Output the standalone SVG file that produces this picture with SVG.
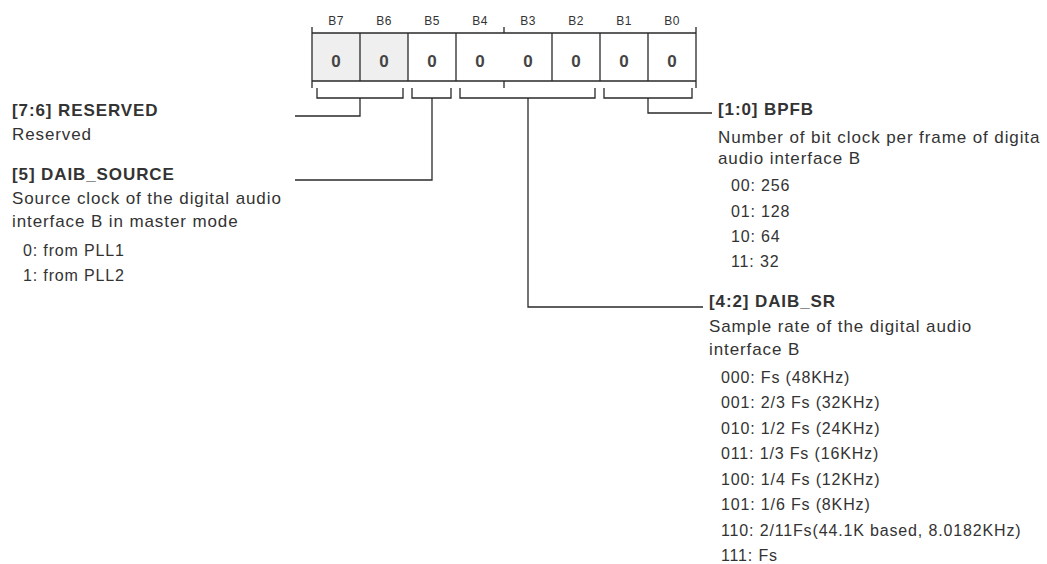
<svg xmlns="http://www.w3.org/2000/svg" width="1047" height="564" viewBox="0 0 1047 564">
<style>
text{font-family:"Liberation Sans",Arial,sans-serif;fill:#333}
.h{font-size:17px;font-weight:bold;letter-spacing:0.9px}
.d{font-size:17px;letter-spacing:0.9px}
.l{font-size:16px;letter-spacing:0.85px}
.bit{font-size:12px;letter-spacing:0.5px;text-anchor:middle}
.v{font-size:17px;font-weight:bold;fill:#444;text-anchor:middle}
.ln{fill:none;stroke:#2a2a2a;stroke-width:1.3}
</style>
<rect width="1047" height="564" fill="#fff"/>
<g id="register">
<rect x="312" y="33" width="96" height="48" fill="#efefef"/>
<text class="bit" x="336" y="25">B7</text>
<text class="bit" x="384" y="25">B6</text>
<text class="bit" x="432" y="25">B5</text>
<text class="bit" x="480" y="25">B4</text>
<text class="bit" x="528" y="25">B3</text>
<text class="bit" x="576" y="25">B2</text>
<text class="bit" x="624" y="25">B1</text>
<text class="bit" x="672" y="25">B0</text>
<path class="ln" d="M312 33H696M312 81H696M312 27V88M504 27V33M504 81V88M696 27V88M360 33V81M408 33V81M456 33V81M552 33V81M600 33V81M648 33V81"/>
<text class="v" x="336" y="67">0</text>
<text class="v" x="384" y="67">0</text>
<text class="v" x="432" y="67">0</text>
<text class="v" x="480" y="67">0</text>
<text class="v" x="528" y="67">0</text>
<text class="v" x="576" y="67">0</text>
<text class="v" x="624" y="67">0</text>
<text class="v" x="672" y="67">0</text>
</g>
<g id="connectors">
<path class="ln" d="M317 88V98H403V88M412 88V98H451V88M460 88V98H595V88M604 88V98H692V88"/>
<path class="ln" d="M360 98V116H295"/>
<path class="ln" d="M432 98V180H295"/>
<path class="ln" d="M528 98V307H703"/>
<path class="ln" d="M648 98V113H712"/>
</g>
<g id="reserved">
<text class="h" x="12" y="116">[7:6] RESERVED</text>
<text class="d" x="12" y="140">Reserved</text>
</g>
<g id="daib_source">
<text class="h" x="12" y="180">[5] DAIB_SOURCE</text>
<text class="d" x="12" y="204">Source clock of the digital audio</text>
<text class="d" x="12" y="227">interface B in master mode</text>
<text class="l" x="23" y="256">0: from PLL1</text>
<text class="l" x="23" y="281">1: from PLL2</text>
</g>
<g id="bpfb">
<text class="h" x="718" y="115">[1:0] BPFB</text>
<text class="d" x="718" y="143">Number of bit clock per frame of digita</text>
<text class="d" x="718" y="164">audio interface B</text>
<text class="l" x="731" y="191">00: 256</text>
<text class="l" x="731" y="217">01: 128</text>
<text class="l" x="731" y="242">10: 64</text>
<text class="l" x="731" y="267">11: 32</text>
</g>
<g id="daib_sr">
<text class="h" x="709" y="307">[4:2] DAIB_SR</text>
<text class="d" x="709" y="332">Sample rate of the digital audio</text>
<text class="d" x="709" y="355">interface B</text>
<text class="l" x="721" y="383">000: Fs (48KHz)</text>
<text class="l" x="721" y="408">001: 2/3 Fs (32KHz)</text>
<text class="l" x="721" y="434">010: 1/2 Fs (24KHz)</text>
<text class="l" x="721" y="459">011: 1/3 Fs (16KHz)</text>
<text class="l" x="721" y="485">100: 1/4 Fs (12KHz)</text>
<text class="l" x="721" y="510">101: 1/6 Fs (8KHz)</text>
<text class="l" x="721" y="536">110: 2/11Fs(44.1K based, 8.0182KHz)</text>
<text class="l" x="721" y="561">111: Fs</text>
</g>
</svg>
